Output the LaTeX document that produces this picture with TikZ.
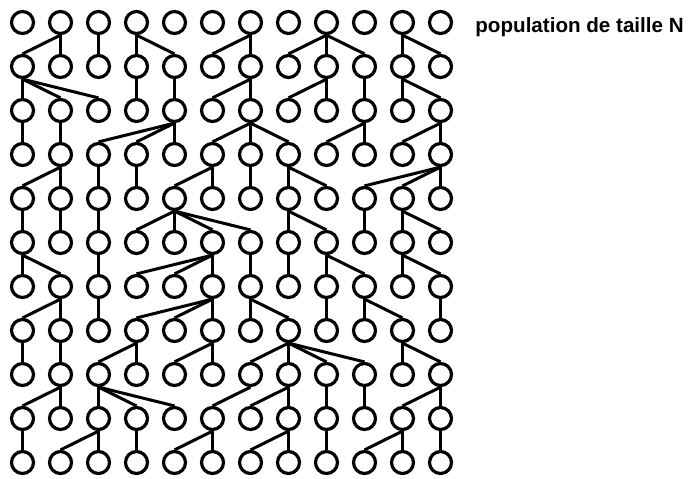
\documentclass[tikz,border=0pt]{standalone}
\usepackage{fontspec}
\setmainfont{Liberation Sans}
\usetikzlibrary{positioning}

\begin{document}
\begin{tikzpicture}[x=0.5pt,y=-0.5pt,
  indiv/.style={draw,circle,line width=1.6pt,minimum size=11pt,inner sep=0pt},
  lien/.style={line width=1.5pt}]
  \useasboundingbox (0,0) rectangle (689,478);
  \foreach \r in {1,...,11}
    \foreach \c in {1,...,12}
      \node[indiv] (n\r-\c) at ({22.5+38*(\c-1)},{22.5+44*(\r-1)}) {};
  \node[anchor=base west,inner sep=0pt,font=\bfseries\fontsize{10.3}{12}\selectfont] (titre) at (475,32) {population de taille N};
  \foreach \parents [count=\r] in {
      {2,2,3,4,4,7,7,9,9,9,11,11},
      {1,1,1,4,5,7,7,9,9,10,11,11},
      {1,2,5,5,5,7,7,7,10,10,12,12},
      {2,2,3,4,6,6,7,8,8,12,12,12},
      {1,2,3,5,5,5,5,8,8,10,11,11},
      {1,1,3,6,6,6,7,8,9,9,11,11},
      {2,2,3,6,6,6,7,7,9,10,10,12},
      {1,2,4,4,6,6,8,8,8,8,11,11},
      {2,2,3,3,3,7,8,8,9,10,12,12},
      {1,3,3,4,6,6,8,8,9,11,11,12}} {
    \pgfmathtruncatemacro\s{\r+1}
    \foreach \p [count=\c] in \parents
      \draw[lien] (n\r-\p.south) -- (n\s-\c.north);
  }
\end{tikzpicture}
\end{document}
